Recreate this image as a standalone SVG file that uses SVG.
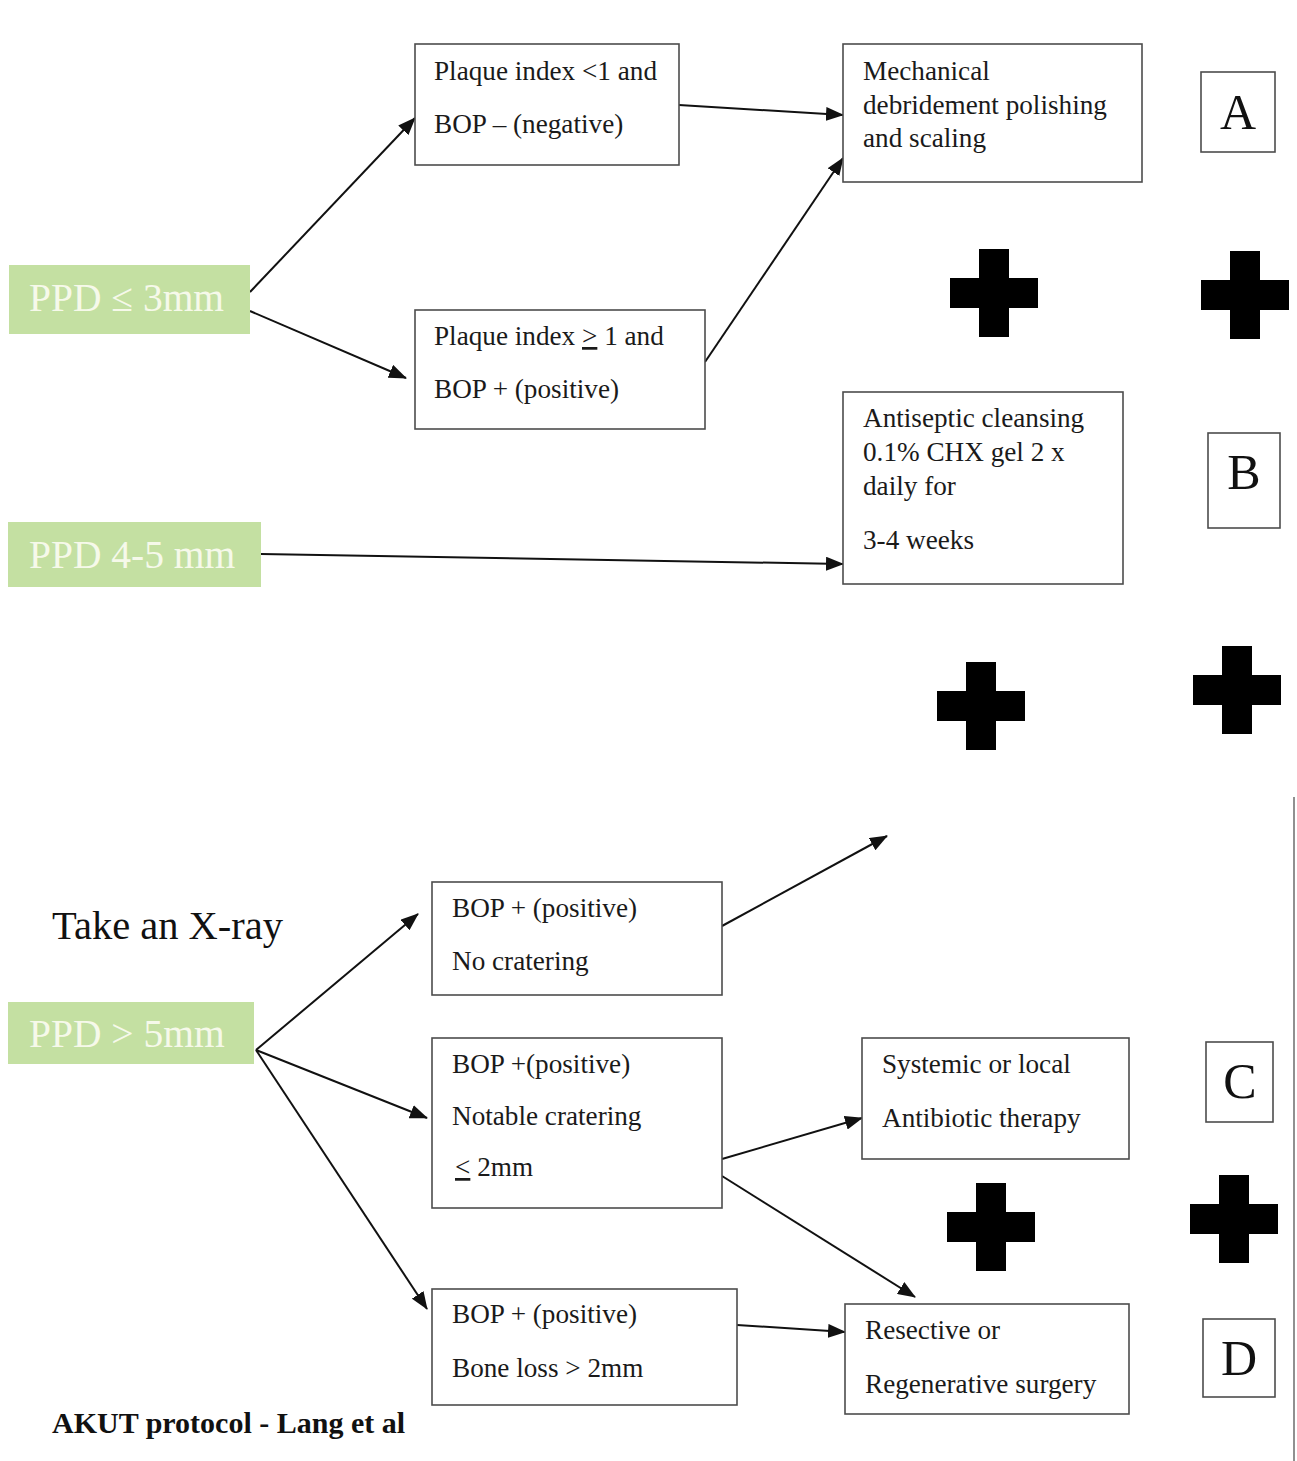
<svg xmlns="http://www.w3.org/2000/svg" width="1297" height="1461" viewBox="0 0 1297 1461">
<style>
.bg{fill:#ffffff}
.box{fill:#ffffff;stroke:#4d4d4d;stroke-width:1.6}
.grn{fill:#c4e0a2}
.gt{font-family:"Liberation Serif","Times New Roman",serif;font-size:39.5px;fill:#f6f9ea}
.t{font-family:"Liberation Serif","Times New Roman",serif;font-size:27.2px;fill:#1a1a1a}
.big{font-family:"Liberation Serif","Times New Roman",serif;font-size:50px;fill:#111;text-anchor:middle}
.xr{font-family:"Liberation Serif","Times New Roman",serif;font-size:40.5px;fill:#111}
.bold{font-family:"Liberation Serif","Times New Roman",serif;font-size:30px;font-weight:bold;fill:#111}
.ln{stroke:#111;stroke-width:2;fill:none;marker-end:url(#ah)}
</style>
<defs>
<marker id="ah" markerUnits="userSpaceOnUse" markerWidth="18" markerHeight="14" refX="17" refY="7" orient="auto">
<path d="M0,0 L18,7 L0,14 Z" fill="#111"/>
</marker>
<path id="cross" d="M-15,-44 H15 V-15 H44 V15 H15 V44 H-15 V15 H-44 V-15 H-15 Z" fill="#000"/>
</defs>
<rect class="bg" x="0" y="0" width="1297" height="1461"/>

<g id="connectors">
<line class="ln" x1="250" y1="292" x2="415" y2="118"/>
<line class="ln" x1="250" y1="311" x2="406" y2="378"/>
<line class="ln" x1="679" y1="105" x2="843" y2="115"/>
<line class="ln" x1="705" y1="362" x2="843" y2="158"/>
<line class="ln" x1="261" y1="554" x2="843" y2="564"/>
<line class="ln" x1="256" y1="1050" x2="418" y2="914"/>
<line class="ln" x1="256" y1="1050" x2="427" y2="1118"/>
<line class="ln" x1="256" y1="1050" x2="427" y2="1309"/>
<line class="ln" x1="722" y1="926" x2="887" y2="836"/>
<line class="ln" x1="722" y1="1159" x2="862" y2="1118"/>
<line class="ln" x1="722" y1="1176" x2="915" y2="1297"/>
<line class="ln" x1="737" y1="1325" x2="845" y2="1332"/>
</g>

<g id="ppd3">
<rect class="grn" x="9" y="265" width="241" height="69"/>
<text class="gt" x="29" y="311">PPD ≤ 3mm</text>
</g>
<g id="ppd45">
<rect class="grn" x="8" y="522" width="253" height="65"/>
<text class="gt" x="29" y="568">PPD 4-5 mm</text>
</g>
<g id="ppd5">
<rect class="grn" x="8" y="1002" width="246" height="62"/>
<text class="gt" x="29" y="1047">PPD &gt; 5mm</text>
</g>

<g id="plaque-neg">
<rect class="box" x="415" y="44" width="264" height="121"/>
<text class="t" x="434" y="80">Plaque index &lt;1 and</text>
<text class="t" x="434" y="133">BOP – (negative)</text>
</g>
<g id="plaque-pos">
<rect class="box" x="415" y="310" width="290" height="119"/>
<text class="t" x="434" y="345">Plaque index <tspan text-decoration="underline">&gt;</tspan> 1 and</text>
<text class="t" x="434" y="398">BOP + (positive)</text>
</g>
<g id="mechanical">
<rect class="box" x="843" y="44" width="299" height="138"/>
<text class="t" x="863" y="80">Mechanical</text>
<text class="t" x="863" y="114">debridement polishing</text>
<text class="t" x="863" y="147">and scaling</text>
</g>
<g id="label-a">
<rect class="box" x="1201" y="72" width="74" height="80"/>
<text class="big" x="1238" y="129">A</text>
</g>
<g id="antiseptic">
<rect class="box" x="843" y="392" width="280" height="192"/>
<text class="t" x="863" y="427">Antiseptic cleansing</text>
<text class="t" x="863" y="461">0.1% CHX gel 2 x</text>
<text class="t" x="863" y="495">daily for</text>
<text class="t" x="863" y="549">3-4 weeks</text>
</g>
<g id="label-b">
<rect class="box" x="1208" y="433" width="72" height="95"/>
<text class="big" x="1244" y="489">B</text>
</g>

<g id="plus-signs">
<use href="#cross" x="994" y="293"/>
<use href="#cross" x="1245" y="295"/>
<use href="#cross" x="981" y="706"/>
<use href="#cross" x="1237" y="690"/>
<use href="#cross" x="991" y="1227"/>
<use href="#cross" x="1234" y="1219"/>
</g>

<g id="xray">
<text class="xr" x="52" y="939">Take an X-ray</text>
</g>
<g id="no-cratering">
<rect class="box" x="432" y="882" width="290" height="113"/>
<text class="t" x="452" y="917">BOP + (positive)</text>
<text class="t" x="452" y="970">No cratering</text>
</g>
<g id="notable-cratering">
<rect class="box" x="432" y="1038" width="290" height="170"/>
<text class="t" x="452" y="1073">BOP +(positive)</text>
<text class="t" x="452" y="1125">Notable cratering</text>
<text class="t" x="455" y="1176"><tspan text-decoration="underline">&lt;</tspan> 2mm</text>
</g>
<g id="bone-loss">
<rect class="box" x="432" y="1289" width="305" height="116"/>
<text class="t" x="452" y="1323">BOP + (positive)</text>
<text class="t" x="452" y="1377">Bone loss &gt; 2mm</text>
</g>
<g id="antibiotic">
<rect class="box" x="862" y="1038" width="267" height="121"/>
<text class="t" x="882" y="1073">Systemic or local</text>
<text class="t" x="882" y="1127">Antibiotic therapy</text>
</g>
<g id="label-c">
<rect class="box" x="1206" y="1042" width="67" height="80"/>
<text class="big" x="1240" y="1098">C</text>
</g>
<g id="surgery">
<rect class="box" x="845" y="1304" width="284" height="110"/>
<text class="t" x="865" y="1339">Resective or</text>
<text class="t" x="865" y="1393">Regenerative surgery</text>
</g>
<g id="label-d">
<rect class="box" x="1203" y="1319" width="72" height="78"/>
<text class="big" x="1239" y="1375">D</text>
</g>
<line x1="1294" y1="797" x2="1294" y2="1461" stroke="#6b6b6b" stroke-width="1.5"/>
<text class="bold" x="52" y="1433">AKUT protocol - Lang et al</text>
</svg>
